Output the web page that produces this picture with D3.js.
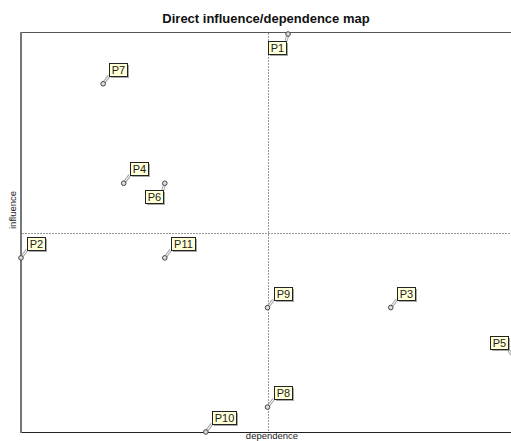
<!DOCTYPE html>
<html><head><meta charset="utf-8">
<script src="https://cdn.jsdelivr.net/npm/d3@7"></script>
<style>body{margin:0;background:#fff}svg{display:block}</style>
</head><body>
<script>
const labels = ["P1","P2","P3","P4","P5","P6","P7","P8","P9","P10","P11"];
const dependence = [13, 0, 18, 5, 24, 7, 4, 12, 12, 9, 7];
const influence  = [16, 7, 5, 10, 3, 10, 14, 1, 5, 0, 7];
const dependenceCut = 12;
const influenceCut = 8;
const title = "Direct influence/dependence map";
const xTitle = "dependence";
const yTitle = "influence";

const W = 511, H = 441;
const svg = d3.select("body").append("svg").attr("width", W).attr("height", H);
const x = d3.scaleLinear().domain([0, 24]).range([21, 514]);
const y = d3.scaleLinear().domain([0, 16]).range([432, 34]);

svg.append("text").attr("x", 266).attr("y", 23).attr("text-anchor", "middle")
  .attr("font-family", "Liberation Sans, Arial, sans-serif").attr("font-weight", "bold")
  .attr("font-size", 13).attr("fill", "#111").text(title);

// frame
svg.append("line").attr("x1", 21).attr("x2", 520).attr("y1", 32.5).attr("y2", 32.5).attr("stroke", "#555").attr("stroke-width", 1);
svg.append("line").attr("x1", 21).attr("x2", 520).attr("y1", 432.5).attr("y2", 432.5).attr("stroke", "#222").attr("stroke-width", 1);
svg.append("line").attr("x1", 21).attr("x2", 21).attr("y1", 32).attr("y2", 433).attr("stroke", "#777").attr("stroke-width", 2);

// cut lines
svg.append("line").attr("x1", Math.round(x(dependenceCut)) + 0.5).attr("x2", Math.round(x(dependenceCut)) + 0.5)
  .attr("y1", 33).attr("y2", 432).attr("stroke", "#999").attr("stroke-dasharray", "2,1");
svg.append("line").attr("x1", 22).attr("x2", 515).attr("y1", Math.round(y(influenceCut)) + 0.5).attr("y2", Math.round(y(influenceCut)) + 0.5)
  .attr("stroke", "#999").attr("stroke-dasharray", "2,1");

// axis titles
svg.append("text").attr("x", 272).attr("y", 439).attr("text-anchor", "middle")
  .attr("font-family", "Liberation Sans, Arial, sans-serif").attr("font-size", 9.5).attr("fill", "#222").text(xTitle);
svg.append("text").attr("transform", "translate(16,210) rotate(-90)").attr("text-anchor", "middle")
  .attr("font-family", "Liberation Sans, Arial, sans-serif").attr("font-size", 9.5).attr("fill", "#222").text(yTitle);

// label placement (layout only)
const place = {P1: "dl", P6: "dl", P5: "ul"};

const data = labels.map((l, i) => ({label: l, dx: dependence[i], iy: influence[i]}));
const g = svg.append("g");
data.forEach(d => {
  const px = x(d.dx), py = y(d.iy);
  const bw = d.label.length > 2 ? 24 : 18, bh = 13;
  const p = place[d.label] || "ur";
  let bx, by, cx, cy;
  if (p === "ur") { bx = px + 6; by = py - 8 - bh; cx = bx; cy = by + bh; }
  else if (p === "dl") { bx = px - 2 - bw; by = py + 7; cx = bx + bw; cy = by; }
  else { bx = px - 6 - bw; by = py - 8 - bh; cx = bx + bw; cy = by + bh; }
  // connector
  g.append("line").attr("x1", px).attr("y1", py).attr("x2", cx).attr("y2", cy)
    .attr("stroke", "#aaa").attr("stroke-width", 3);
  g.append("line").attr("x1", px).attr("y1", py).attr("x2", cx).attr("y2", cy)
    .attr("stroke", "#fff").attr("stroke-width", 1);
  // point
  g.append("circle").attr("cx", px).attr("cy", py).attr("r", 2.3)
    .attr("fill", "#ddd").attr("stroke", "#444").attr("stroke-width", 1);
  // shadow
  g.append("rect").attr("x", Math.round(bx) + 2).attr("y", Math.round(by) + 2).attr("width", bw).attr("height", bh)
    .attr("fill", "#aaa");
  g.append("rect").attr("x", Math.round(bx) + 0.5).attr("y", Math.round(by) + 0.5).attr("width", bw).attr("height", bh)
    .attr("fill", "#ffffd8").attr("stroke", "#222").attr("stroke-width", 1);
  g.append("text").attr("x", Math.round(bx) + bw / 2 + 0.5).attr("y", Math.round(by) + 11)
    .attr("text-anchor", "middle").attr("font-family", "Liberation Sans, Arial, sans-serif")
    .attr("font-size", 11).attr("fill", "#222").text(d.label);
});
</script>
</body></html>
